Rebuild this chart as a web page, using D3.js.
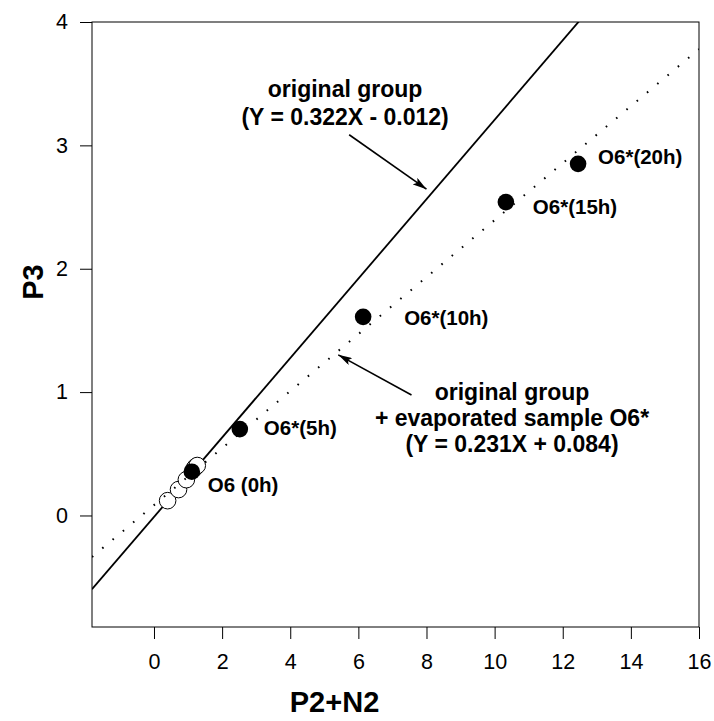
<!DOCTYPE html>
<html>
<head>
<meta charset="utf-8">
<script src="https://cdn.jsdelivr.net/npm/d3@7"></script>
<style>
  body { margin: 0; background: #fff; }
  text { font-family: "Liberation Sans", Arial, sans-serif; }
</style>
</head>
<body>
<div id="chart"></div>
<script>
// data
var openX = [0.40, 0.72, 0.95, 1.18, 1.22, 1.27];
var openY = [0.12, 0.21, 0.29, 0.38, 0.395, 0.405];

var filledX = [1.11, 2.52, 6.14, 10.33, 12.45];
var filledY = [0.355, 0.70, 1.61, 2.54, 2.85];
var filledLabels = ["O6 (0h)", "O6*(5h)", "O6*(10h)", "O6*(15h)", "O6*(20h)"];

var xTicks = [0, 2, 4, 6, 8, 10, 12, 14, 16];
var yTicks = [0, 1, 2, 3, 4];

// regression lines: slope, intercept
var fitOriginal = [0.322, -0.012];
var fitEvaporated = [0.231, 0.084];

// label offsets in pixels (dx, dy from the point)
var labelOffsets = [[16, 20], [24, 6], [41, 8], [27, 12], [20, 0]];

var svgWidth = 714;
var svgHeight = 721;
var margin = { top: 22, right: 15, bottom: 94, left: 92 };
var width = svgWidth - margin.left - margin.right;
var height = svgHeight - margin.top - margin.bottom;

var svg = d3.select("#chart")
    .append("svg")
    .attr("width", svgWidth)
    .attr("height", svgHeight);

var defs = svg.append("defs");
defs.append("marker")
    .attr("id", "head")
    .attr("viewBox", "0 0 14 8")
    .attr("refX", 14)
    .attr("refY", 4)
    .attr("markerWidth", 14)
    .attr("markerHeight", 8)
    .attr("markerUnits", "userSpaceOnUse")
    .attr("orient", "auto")
    .append("path")
    .attr("d", "M0,0 L14,4 L0,8 L3,4 Z")
    .attr("fill", "#000");

defs.append("clipPath").attr("id", "plotclip")
    .append("rect").attr("width", width).attr("height", height);

var chartGroup = svg.append("g")
    .attr("transform", `translate(${margin.left}, ${margin.top})`);

var xScale = d3.scaleLinear().domain([-1.82, 16]).range([0, width]);
var yScale = d3.scaleLinear().domain([-0.904, 4]).range([height, 0]);

// frame
chartGroup.append("rect")
    .attr("width", width)
    .attr("height", height)
    .attr("fill", "none")
    .attr("stroke", "#000")
    .attr("stroke-width", 1);

// axes
var xAxis = d3.axisBottom(xScale).tickValues(xTicks).tickSize(12).tickPadding(15).tickFormat(d3.format("d"));
var yAxis = d3.axisLeft(yScale).tickValues(yTicks).tickSize(12).tickPadding(12).tickFormat(d3.format("d"));

var gx = chartGroup.append("g").attr("transform", `translate(0, ${height})`).call(xAxis);
var gy = chartGroup.append("g").call(yAxis);
[gx, gy].forEach(function (g) {
    g.select(".domain").remove();
    g.selectAll("line").attr("stroke", "#000");
    g.selectAll("text")
        .attr("fill", "#000")
        .style("font-size", "21.5px")
        .style("font-family", "'Liberation Sans', Arial, sans-serif");
});

var plot = chartGroup.append("g").attr("clip-path", "url(#plotclip)");
var xDom = xScale.domain();

// solid line - original group
plot.append("line")
    .attr("x1", xScale(xDom[0]))
    .attr("y1", yScale(fitOriginal[0] * xDom[0] + fitOriginal[1]))
    .attr("x2", xScale(xDom[1]))
    .attr("y2", yScale(fitOriginal[0] * xDom[1] + fitOriginal[1]))
    .attr("stroke", "#000")
    .attr("stroke-width", 1.8);

// open circles
plot.selectAll("circle.open")
    .data(openX)
    .enter()
    .append("circle")
    .attr("class", "open")
    .attr("cx", d => xScale(d))
    .attr("cy", (d, i) => yScale(openY[i]))
    .attr("r", 8.3)
    .attr("fill", "#fff")
    .attr("stroke", "#000")
    .attr("stroke-width", 1);

// dotted line - with evaporated sample
plot.append("line")
    .attr("x1", xScale(xDom[0]))
    .attr("y1", yScale(fitEvaporated[0] * xDom[0] + fitEvaporated[1]))
    .attr("x2", xScale(xDom[1]))
    .attr("y2", yScale(fitEvaporated[0] * xDom[1] + fitEvaporated[1]))
    .attr("stroke", "#000")
    .attr("stroke-width", 2)
    .attr("stroke-dasharray", "1.6,11.8");

// filled circles
plot.selectAll("circle.filled")
    .data(filledX)
    .enter()
    .append("circle")
    .attr("class", "filled")
    .attr("cx", d => xScale(d))
    .attr("cy", (d, i) => yScale(filledY[i]))
    .attr("r", 8.3)
    .attr("fill", "#000");

// point labels
chartGroup.selectAll("text.plabel")
    .data(filledLabels)
    .enter()
    .append("text")
    .attr("class", "plabel")
    .attr("x", (d, i) => xScale(filledX[i]) + labelOffsets[i][0])
    .attr("y", (d, i) => yScale(filledY[i]) + labelOffsets[i][1])
    .attr("font-size", "20.5px")
    .attr("font-weight", "bold")
    .text(d => d);

// annotations
function annotate(lines, cx, baseY, lineGap) {
    var t = chartGroup.append("text")
        .attr("text-anchor", "middle")
        .attr("font-size", "23px")
        .attr("font-weight", "bold");
    lines.forEach(function (s, i) {
        t.append("tspan").attr("x", cx).attr("y", baseY + i * lineGap).text(s);
    });
}
annotate(["original group", "(Y = 0.322X - 0.012)"], xScale(5.61), yScale(3.394), 28);
annotate(["original group", "+ evaporated sample O6*", "(Y = 0.231X + 0.084)"], xScale(10.51), yScale(0.937), 26);

function arrow(x1, y1, x2, y2) {
    chartGroup.append("line")
        .attr("x1", xScale(x1)).attr("y1", yScale(y1))
        .attr("x2", xScale(x2)).attr("y2", yScale(y2))
        .attr("stroke", "#000")
        .attr("stroke-width", 1.6)
        .attr("marker-end", "url(#head)");
}
arrow(5.73, 3.086, 8.0, 2.645);
arrow(7.56, 0.977, 5.41, 1.302);

// axis titles
svg.append("text")
    .attr("x", margin.left + xScale(5.3))
    .attr("y", 712)
    .attr("text-anchor", "middle")
    .attr("font-size", "29px")
    .attr("font-weight", "bold")
    .text("P2+N2");

svg.append("text")
    .attr("transform", "translate(43, 282) rotate(-90)")
    .attr("text-anchor", "middle")
    .attr("font-size", "29px")
    .attr("font-weight", "bold")
    .text("P3");
</script>
</body>
</html>
